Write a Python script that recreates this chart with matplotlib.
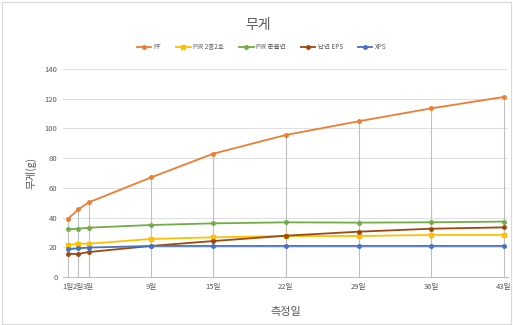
import matplotlib
matplotlib.use("Agg")
import matplotlib.pyplot as plt
from matplotlib.patches import Rectangle

plt.rcParams['font.family'] = ['Noto Sans CJK KR', 'DejaVu Sans']

days = [1, 2, 3, 9, 15, 22, 29, 36, 43]
day_labels = ["1일", "2일", "3일", "9일", "15일", "22일", "29일", "36일", "43일"]
pf = [39.2, 45.5, 50.2, 67.0, 83.0, 95.6, 104.8, 113.5, 121.2]
pir_22 = [21.5, 22.4, 22.4, 25.6, 26.7, 27.6, 27.6, 28.3, 28.3]
pir_semi = [32.1, 32.5, 33.2, 35.0, 36.1, 36.8, 36.6, 36.8, 37.3]
eps = [15.5, 15.5, 16.8, 20.9, 24.2, 27.8, 30.5, 32.5, 33.4]
xps = [18.6, 19.3, 19.8, 20.9, 20.9, 20.9, 20.9, 20.9, 20.9]
series_names = ["PF", "PIR 2종2호", "PIR 준불연", "난연 EPS", "XPS"]
series_vals = [pf, pir_22, pir_semi, eps, xps]
colors = ["#ED7D31", "#FFC000", "#70AD47", "#9E480E", "#4472C4"]
yticks = [0, 20, 40, 60, 80, 100, 120, 140]

fig = plt.figure(figsize=(5.13, 3.25), dpi=100)
fig.patches.append(Rectangle((0.004, 0.004), 0.992, 0.99, transform=fig.transFigure,
                             fill=False, edgecolor="#D9D9D9", lw=0.8))
ax = fig.add_axes([63/513, 1-277/325, (508-63)/513, (277-69)/325])

tops = [max(v) for v in zip(*series_vals)]
ax.vlines(days, 0, tops, color="#BFBFBF", lw=0.8, zorder=1)

ms = [2.5, 3.5, 2.5, 2.5, 2.5]
mk = ['o', 's', 'o', 'o', 'o']
for name, vals, c, m, s in zip(series_names, series_vals, colors, mk, ms):
    ax.plot(days, vals, color=c, lw=1.3, marker=m, markersize=s, label=name, zorder=3)

ax.set_xlim(0.52, 43.4)
ax.set_ylim(0, 140)
ax.set_yticks(yticks)
ax.set_yticklabels([str(t) for t in yticks])
ax.set_xticks(days)
ax.set_xticklabels(day_labels)
ax.tick_params(axis='both', labelsize=5.5, colors="#595959", length=0, pad=4)
ax.grid(axis='y', color="#D9D9D9", lw=0.6)
ax.set_axisbelow(True)
for sp in ['top', 'right', 'left']:
    ax.spines[sp].set_visible(False)
ax.spines['bottom'].set_color("#BFBFBF")
ax.spines['bottom'].set_linewidth(0.8)

ax.set_ylabel("무게(g)", fontsize=7.5, color="#595959", labelpad=6)
ax.set_xlabel("측정일", fontsize=8, color="#595959", labelpad=12)

fig.text(0.503, 1-25/325, "무게", ha='center', va='center', fontsize=10, color="#595959")
fig.legend(loc='center', bbox_to_anchor=(0.51, 1-47/325), ncol=5, fontsize=4.7,
           frameon=False, handlelength=2.2, columnspacing=2.3, handletextpad=0.4,
           labelcolor="#595959")

fig.savefig("out.png", dpi=100)
